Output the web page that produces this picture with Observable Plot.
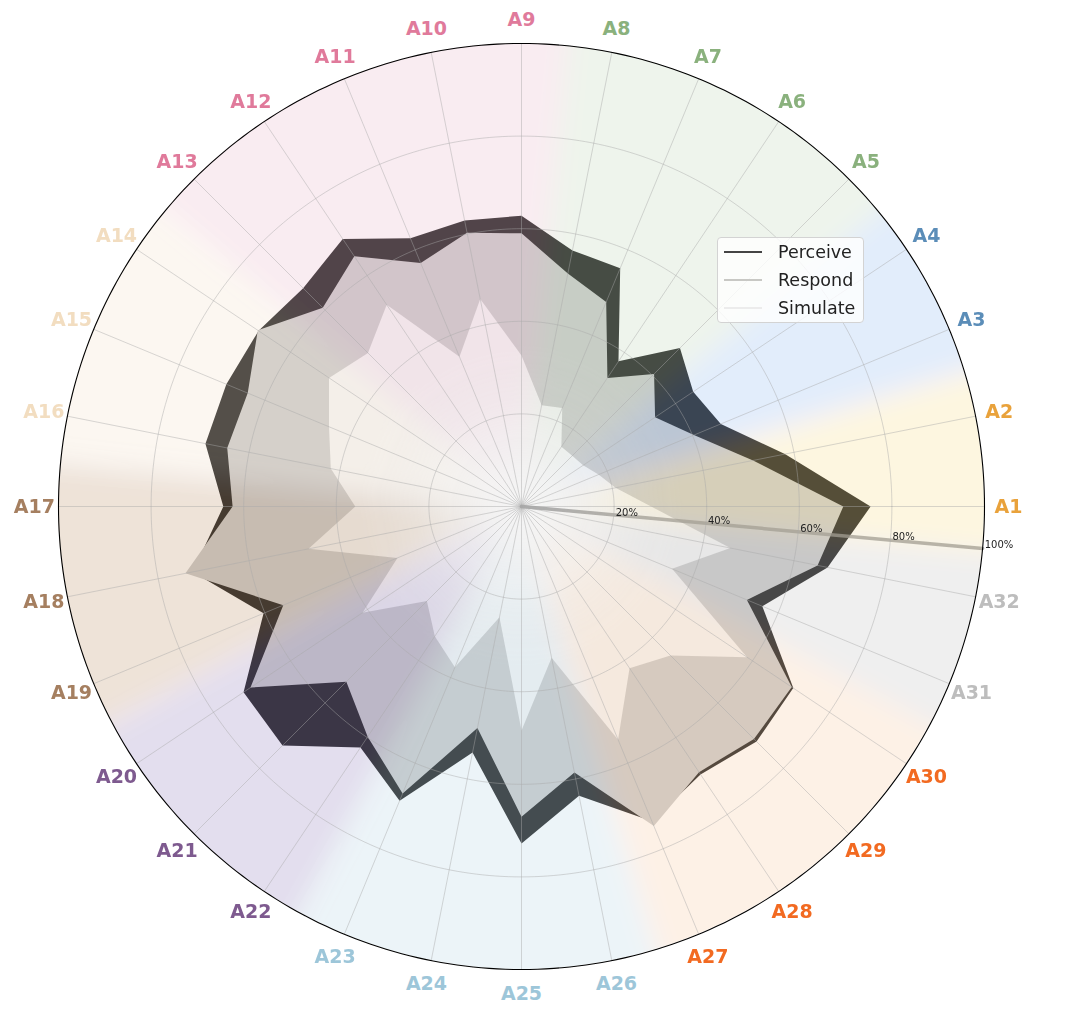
<!DOCTYPE html>
<html>
<head>
<meta charset="utf-8">
<script src="https://cdn.jsdelivr.net/npm/d3@7"></script>
<script src="https://cdn.jsdelivr.net/npm/@observablehq/plot@0.6"></script>
<style>
  body { margin: 0; background: #fff; font-family: "DejaVu Sans", sans-serif; }
  #wrap { position: relative; width: 1078px; height: 1009px; overflow: hidden; }
  .legend { position: absolute; left: 717px; top: 237px; width: 147px; height: 86px;
    border: 1px solid #d3d3d3; border-radius: 4px; background: rgba(255,255,255,0.8); box-sizing: border-box; }
  .legend .row { position: absolute; left: 6px; height: 22px; display: flex; align-items: center;
    font-size: 17.5px; color: #222; white-space: nowrap; }
  .legend .sw { display: inline-block; width: 38px; margin-right: 16px; }
</style>
</head>
<body>
<div id="wrap"></div>
<script>
// ---------- data ----------
const axes = ["A1","A2","A3","A4","A5","A6","A7","A8","A9","A10","A11","A12","A13","A14","A15","A16",
              "A17","A18","A19","A20","A21","A22","A23","A24","A25","A26","A27","A28","A29","A30","A31","A32"];
const perceive = [75.4, 58, 46.6, 44.6, 48.4, 37.7, 55.7, 56.4, 62.8, 63, 62.7, 69.5, 66.7, 68.3, 69, 69.6,
                  64.4, 72.4, 60.3, 72.2, 73, 62.6, 68.8, 54.2, 72.8, 63.7, 73.6, 69.6, 71.8, 70.6, 56.3, 67.4];
const respond  = [69.5, 51, 40.3, 34.7, 40.5, 33.4, 47.8, 51.3, 59, 60.3, 56.9, 65, 60.7, 68.5, 64, 64.8,
                  62.4, 74, 55.7, 70.4, 53.5, 59.8, 67.1, 48.8, 67, 58.6, 74.7, 69, 71, 70.2, 52.7, 65.2];
const simulate = [28, 20.7, 18, 16, 15.5, 15.5, 23, 22.3, 32.6, 45.7, 35, 52.4, 46.9, 50, 45, 42,
                  35.9, 46.9, 29, 41.3, 28.9, 33.7, 37.6, 24.4, 48.4, 33.3, 54.5, 42, 45.5, 58.6, 35.2, 46];
const axisGroup = [0,0,1,1,2,2,2,2,3,3,3,3,3,4,4,4,5,5,5,6,6,6,7,7,7,7,8,8,8,8,9,9];
const groupLabelColors = ["#E9A23B","#5B8DB8","#8AB17D","#E07A9B","#F2DDC0","#A57F60","#7E5A8F","#9DC6D9","#F26A21","#BDBDBD"];
const groupTints = ["#F5D264","#6EA5EB","#AAC8A0","#E1A0B9","#F0D7B9","#AA733C","#735AAA","#A0C8DC","#F5B982","#AFAFAF"];
const ringValues = [20, 40, 60, 80, 100];
const ringLabels = ["20%", "40%", "60%", "80%", "100%"];
const seriesNames = ["Perceive", "Respond", "Simulate"];
const seriesFill = ["#2e2e2e", "#cfcfcf", "#f5f5f5"];
const legendStroke = ["#444444", "#c8c8c4", "#ececec"];
const strayLine = [{angleDeg: -5.2, r0: 0, r1: 100}];
const labelRadius = 105.2;
const radialLabelAngle = -5;

// ---------- helpers ----------
const step = 360 / axes.length;
const rad = d => d * Math.PI / 180;
const ang = i => rad(i * step);
const px = (r, a) => r * Math.cos(a);
const py = (r, a) => r * Math.sin(a);

const seriesValues = [perceive, respond, simulate];
const polyMarks = seriesValues.map((vals, s) =>
  Plot.line(vals.map((v, i) => ({x: px(v, ang(i)), y: py(v, ang(i))})),
    {x: "x", y: "y", curve: "linear-closed", fill: seriesFill[s], stroke: "none"}));

// background wedges (one per group)
const wedgeMarks = groupTints.map((c, g) => {
  const idx = axisGroup.map((gg, i) => gg === g ? i : -1).filter(i => i >= 0);
  const a0 = (idx[0] - 0.5) * step, a1 = (idx[idx.length - 1] + 0.5) * step;
  const pts = [{x: 0, y: 0}];
  for (const a of d3.range(a0, a1 + 0.001, 0.5)) pts.push({x: px(118, rad(a)), y: py(118, rad(a))});
  return Plot.line(pts, {x: "x", y: "y", curve: "linear-closed", fill: c, stroke: "none", ariaDescription: "wedge"});
});

const ringPts = ringValues.flatMap(v => d3.range(0, 360.5, 1).map(a => ({ring: v, x: px(v, rad(a)), y: py(v, rad(a))})));

const chart = Plot.plot({
  width: 1078, height: 1009,
  marginLeft: 58, marginRight: 94, marginTop: 43, marginBottom: 40,
  x: {domain: [-100, 100], axis: null},
  y: {domain: [-100, 100], axis: null},
  color: {type: "identity"},
  style: {fontFamily: "DejaVu Sans, sans-serif", background: "transparent", overflow: "visible"},
  marks: [
    ...polyMarks,
    Plot.link(strayLine, {
      x1: d => px(d.r0, rad(d.angleDeg)), y1: d => py(d.r0, rad(d.angleDeg)),
      x2: d => px(d.r1, rad(d.angleDeg)), y2: d => py(d.r1, rad(d.angleDeg)),
      stroke: "#959595", strokeWidth: 3.5, strokeOpacity: 0.75, strokeLinecap: "round"}),
    ...wedgeMarks,
    Plot.link(axes, {
      x1: () => 0, y1: () => 0,
      x2: (d, i) => px(100, ang(i)), y2: (d, i) => py(100, ang(i)),
      stroke: "#a8a8a8", strokeOpacity: 0.5, strokeWidth: 0.9}),
    Plot.line(ringPts.filter(d => d.ring < 100), {x: "x", y: "y", z: "ring", stroke: "#a8a8a8", strokeOpacity: 0.5, strokeWidth: 0.9}),
    Plot.line(ringPts.filter(d => d.ring === 100), {x: "x", y: "y", stroke: "#000", strokeWidth: 1.1}),
    Plot.text(ringValues, {
      x: v => px(v, rad(radialLabelAngle)), y: v => py(v, rad(radialLabelAngle)),
      text: (v, i) => ringLabels[i], textAnchor: "start", lineAnchor: "bottom", dx: 2, dy: 1,
      fontSize: 10, fill: "#222"}),
    Plot.text(axes, {
      x: (d, i) => px(labelRadius, ang(i)), y: (d, i) => py(labelRadius, ang(i)),
      text: d => d, fill: (d, i) => groupLabelColors[axisGroup[i]],
      fontSize: 19, fontWeight: "bold", textAnchor: "middle", lineAnchor: "middle"})
  ]
});

// blur + clip + radial fade of the wedge overlay
(function () {
  const NS = "http://www.w3.org/2000/svg";
  const svg = d3.select(chart);
  const xs = chart.scale("x"), ys = chart.scale("y");
  const cx = xs.apply(0), cy = ys.apply(0), R = xs.apply(100) - cx;
  const defs = svg.insert("defs", ":first-child");
  defs.append("filter").attr("id", "wblur").attr("x", "-20%").attr("y", "-20%").attr("width", "140%").attr("height", "140%")
    .append("feGaussianBlur").attr("stdDeviation", 13);
  defs.append("clipPath").attr("id", "wclip").append("circle").attr("cx", cx).attr("cy", cy).attr("r", R);
  const grad = defs.append("radialGradient").attr("id", "wfade").attr("gradientUnits", "userSpaceOnUse")
    .attr("cx", cx).attr("cy", cy).attr("r", R);
  [[0, "#000"], [0.08, "#333"], [0.22, "#bbb"], [0.35, "#fff"], [1, "#fff"]].forEach(([o, c]) =>
    grad.append("stop").attr("offset", o).attr("stop-color", c));
  defs.append("mask").attr("id", "wmask").attr("maskUnits", "userSpaceOnUse")
    .attr("x", 0).attr("y", 0).attr("width", 1078).attr("height", 1009)
    .append("rect").attr("x", 0).attr("y", 0).attr("width", 1078).attr("height", 1009).attr("fill", "url(#wfade)");
  const tintSet = new Set(groupTints.map(c => c.toLowerCase()));
  let nodes = svg.selectAll('g[aria-description="wedge"]').nodes();
  if (!nodes.length) {
    nodes = Array.from(new Set(svg.selectAll("path").nodes()
      .filter(p => tintSet.has((p.getAttribute("fill") || "").toLowerCase()))
      .map(p => p.parentNode)));
  }
  if (nodes.length) {
    const outer = document.createElementNS(NS, "g");
    outer.setAttribute("clip-path", "url(#wclip)");
    outer.setAttribute("opacity", "0.2");
    const mid = document.createElementNS(NS, "g");
    mid.setAttribute("mask", "url(#wmask)");
    const inner = document.createElementNS(NS, "g");
    inner.setAttribute("filter", "url(#wblur)");
    outer.appendChild(mid);
    mid.appendChild(inner);
    nodes[0].parentNode.insertBefore(outer, nodes[0]);
    nodes.forEach(n => inner.appendChild(n));
  }
})();

const wrap = document.getElementById("wrap");
wrap.appendChild(chart);

// legend
const leg = document.createElement("div");
leg.className = "legend";
seriesNames.forEach((name, s) => {
  const row = document.createElement("div");
  row.className = "row";
  row.style.top = (3 + s * 28) + "px";
  const sw = document.createElement("span");
  sw.className = "sw";
  sw.style.borderTop = "2.6px solid " + legendStroke[s];
  row.appendChild(sw);
  row.appendChild(document.createTextNode(name));
  leg.appendChild(row);
});
wrap.appendChild(leg);
</script>
</body>
</html>
